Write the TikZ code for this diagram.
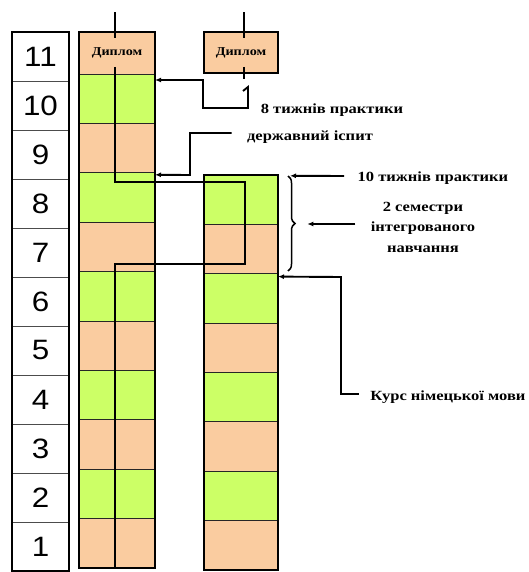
\documentclass[tikz,border=0pt]{standalone}
\usepackage{fontspec}
\setmainfont{Liberation Serif}[FakeStretch=1.18]
\setsansfont{Liberation Sans}[FakeStretch=1.12]
\usetikzlibrary{arrows.meta, positioning, calc, decorations.pathreplacing}
\definecolor{peach}{RGB}{250,204,160}
\definecolor{lime}{RGB}{204,255,102}

\begin{document}
\begin{tikzpicture}[x=1pt, y=-1pt,
  numcell/.style={draw=black!70, line width=0.7pt, minimum width=57pt, minimum height=49pt,
    anchor=north west, inner sep=0pt, outer sep=0pt, font=\sffamily\fontsize{28}{28}\selectfont},
  cell/.style={draw=black!85, line width=0.8pt, minimum width=76pt, minimum height=49.4pt,
    anchor=north west, inner sep=0pt, outer sep=0pt},
  diplom/.style={cell, fill=peach, font=\bfseries\fontsize{12}{14}\selectfont},
  frame/.style={line width=1.8pt},
  link/.style={line width=1.9pt},
  arrow/.style={link, -{Latex[length=6pt, width=5pt]}},
  lbl/.style={font=\bfseries\fontsize{14}{20.5}\selectfont, align=center}]
  \useasboundingbox (0,0) rectangle (529,572);

  % semesters
  \foreach \i in {1,...,11}
    \node[numcell] (n\i) at (12,{32+(11-\i)*49}) {\i};
  \draw[frame] (n11.north west) rectangle (n1.south east);

  % first study plan
  \foreach \i in {1,...,10}{
    \ifodd\i \def\clr{peach}\else \def\clr{lime}\fi
    \node[cell, fill=\clr] (a\i) at (79,{568-\i*49.4}) {};
  }
  \node[diplom, minimum height=42pt] (a11) at (79,32) {Диплом};
  \draw[frame] (a11.north west) rectangle (a1.south east);

  % second study plan
  \foreach \i in {1,...,8}{
    \ifodd\i \def\clr{peach}\else \def\clr{lime}\fi
    \node[cell, minimum width=74pt, fill=\clr] (b\i) at (204,{570-\i*49.4}) {};
  }
  \draw[frame] (b8.north west) rectangle (b1.south east);
  \node[diplom, minimum width=74pt, minimum height=41pt, draw=black, line width=1.8pt] (b9) at (204,32) {Диплом};

  \draw[link] ([xshift=-2pt,yshift=-6pt]a11.north) -- ++(0,-26);
  \draw[link] ([xshift=3pt,yshift=-6pt]b9.north) -- ++(0,-26);
  \draw[link] ([xshift=3pt,yshift=6pt]b9.south) -- ++(0,12);

  \coordinate (z) at (245,264);
  \draw[link] ([xshift=-2pt,yshift=-14pt]a11.center) |- (z |- 0,182) -- (z) -| ([xshift=-2pt]a1.south);

  % labels
  \node[lbl] (l8) at (332,110) {8 тижнів практики};
  \node[lbl] (lexam) at (310,137) {державний іспит};
  \node[lbl] (l10) at (433,178) {10 тижнів практики};
  \node[lbl] (lsem) at (423,227) {2 семестри\\інтегрованого\\навчання};
  \node[lbl] (lger) at (448,397) {Курс німецької мови};

  \draw[arrow] ([xshift=2pt,yshift=-18pt]b9.south) -- ++(5,-4) -- (248,108) -| (203,80) -- ([yshift=-6pt]a10.north east);
  \draw[arrow] ([xshift=-12pt,yshift=4pt]lexam.west) -| (190,175) -- ([yshift=-2pt]a8.north east);
  \draw[arrow] ([xshift=-10pt,yshift=2pt]l10.west) -- ([xshift=12pt,yshift=-1pt]b8.north east);
  \draw[link, line width=1.5pt, decorate, decoration={brace, amplitude=7pt}] (288,176) -- (288,271);
  \draw[arrow] ([xshift=-12pt,yshift=3pt]lsem.west) -- ++(-48,0);
  \draw[arrow] ([xshift=-8pt,yshift=3pt]lger.west) -| (341,277) -- ([yshift=-3pt]b6.north east);
\end{tikzpicture}
\end{document}
